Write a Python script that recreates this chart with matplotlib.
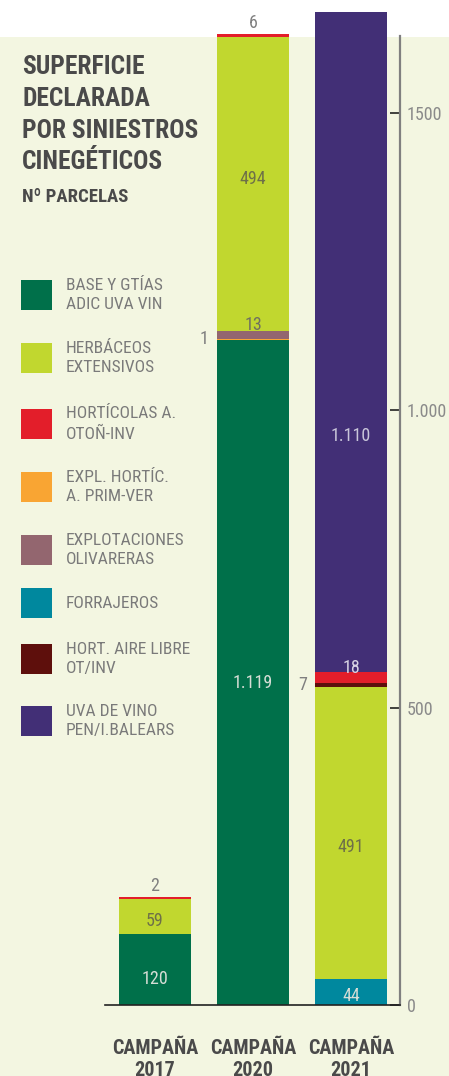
import matplotlib
matplotlib.use("Agg")
import matplotlib.pyplot as plt
from matplotlib import font_manager
from matplotlib.patches import Rectangle
from matplotlib.ticker import FixedLocator, FixedFormatter

# data
campaigns = ['CAMPAÑA\n2017', 'CAMPAÑA\n2020', 'CAMPAÑA\n2021']
forrajeros = [0, 0, 44]
base_gtias = [120, 1119, 0]
expl_hortic = [0, 1, 0]
olivareras = [0, 13, 0]
herbaceos = [59, 494, 491]
hort_aire = [0, 0, 7]
horticolas = [2, 6, 18]
uva_vino = [0, 0, 1110]

tick_vals = [0, 500, 1000, 1500]
tick_text = ['0', '500', '1.000', '1500']

# stacking order (bottom -> top): name, values, colour, legend text
series = [
    ('forr', forrajeros, '#00889E', 'FORRAJEROS'),
    ('base', base_gtias, '#00704A', 'BASE Y GTÍAS\nADIC UVA VIN'),
    ('expl', expl_hortic, '#F9A533', 'EXPL. HORTÍC.\nA. PRIM-VER'),
    ('oliv', olivareras, '#93666F', 'EXPLOTACIONES\nOLIVARERAS'),
    ('herb', herbaceos, '#C1D72F', 'HERBÁCEOS\nEXTENSIVOS'),
    ('aire', hort_aire, '#5E0F0C', 'HORT. AIRE LIBRE\nOT/INV'),
    ('hort', horticolas, '#E31E2A', 'HORTÍCOLAS A.\nOTOÑ-INV'),
    ('uva', uva_vino, '#422F76', 'UVA DE VINO\nPEN/I.BALEARS'),
]
legend_order = ['base', 'herb', 'hort', 'expl', 'oliv', 'forr', 'aire', 'uva']

names = {f.name for f in font_manager.fontManager.ttflist}
narrow = None
for cand in ['Roboto Condensed', 'Liberation Sans Narrow', 'Open Sans Condensed']:
    if cand in names:
        narrow = cand
        break
if narrow is None:
    narrow = 'Liberation Sans'
    k = 0.85
else:
    k = 1.0
FONT = [narrow, 'DejaVu Sans']

W, H = 449, 1076
fig = plt.figure(figsize=(W / 100, H / 100), dpi=100)
fig.patch.set_facecolor('white')
fig.add_artist(Rectangle((0, 0), 1, (H - 37) / H, transform=fig.transFigure,
                         facecolor='#F3F6E1', edgecolor='none', zorder=0))

# axes: value 0 at pixel 1005, 1500 at 113
px_per = (1005 - 113) / 1500
ax = fig.add_axes([105 / W, (H - 1005) / H, 295 / W, 1005 / H])
ax.set_facecolor('none')
ax.set_xlim(-0.51, 2.5)
ax.set_ylim(0, 1005 / px_per)

x = [0, 1, 2]
bw = 0.735
bottoms = [0, 0, 0]
tops = [sum(s[1][i] for s in series) for i in range(3)]

light = '#D5DDD5'
olive = '#6E7048'
grey = '#7F7F7F'
txt_col = {'base': light, 'forr': light, 'uva': '#C9C6DA', 'herb': olive,
           'oliv': '#707060', 'hort': '#D8D4E4'}
# label offsets in points (layout tweaks)
offs = {(0, 'base'): -7, (0, 'herb'): -3.5, (1, 'base'): -8, (1, 'oliv'): 7,
        (1, 'herb'): 3.5, (2, 'forr'): -3, (2, 'herb'): -10, (2, 'hort'): 7,
        (2, 'uva'): -68}

for key, vals, col, lab in series:
    ax.bar(x, vals, bw, bottom=bottoms, color=col, edgecolor='none',
           clip_on=False, zorder=3)
    for i, v in enumerate(vals):
        if v == 0:
            continue
        s = f'{v:,}'.replace(',', '.')
        mid = bottoms[i] + v / 2
        if v < 10:
            if bottoms[i] + v >= tops[i]:
                ax.annotate(s, (x[i], bottoms[i] + v), xytext=(0, 1.5),
                            textcoords='offset points', ha='center', va='bottom',
                            color=grey, fontsize=13 * k, family=FONT,
                            annotation_clip=False, zorder=5)
            else:
                ax.annotate(s, (x[i] - bw / 2, mid), xytext=(-6, 0),
                            textcoords='offset points', ha='right', va='center',
                            color=grey, fontsize=13 * k, family=FONT,
                            annotation_clip=False, zorder=5)
        else:
            ax.annotate(s, (x[i], mid), xytext=(0, offs.get((i, key), 0)),
                        textcoords='offset points', ha='center', va='center',
                        color=txt_col.get(key, light), fontsize=13 * k, family=FONT,
                        annotation_clip=False, zorder=5)
    bottoms = [b + v for b, v in zip(bottoms, vals)]

# axes styling
for sp in ['top', 'left']:
    ax.spines[sp].set_visible(False)
ax.spines['right'].set_color('#808080')
ax.spines['right'].set_linewidth(1.6)
ax.spines['right'].set_bounds(0, (1005 - 36) / px_per)
ax.spines['bottom'].set_color('#222222')
ax.spines['bottom'].set_linewidth(1.2)
ax.spines['bottom'].set_zorder(4)
ax.yaxis.tick_right()
ax.yaxis.set_major_locator(FixedLocator(tick_vals))
ax.yaxis.set_major_formatter(FixedFormatter(tick_text))
ax.tick_params(axis='y', direction='in', length=7, width=1.2, color='#222222',
               pad=5, labelsize=13 * k, labelcolor='#8A8A8A')
for t in ax.get_yticklabels():
    t.set_family(FONT)
ax.set_xticks([])
for i, c in enumerate(campaigns):
    ax.text(x[i], -57, c, ha='center', va='top', fontsize=14.5 * k,
            fontweight='bold', color='#4A4A4A', family=FONT, linespacing=1.2,
            transform=ax.transData, clip_on=False)

# title
title_lines = ['SUPERFICIE', 'DECLARADA', 'POR SINIESTROS', 'CINEGÉTICOS']
baselines = [74, 106, 138, 169]
for line, yb in zip(title_lines, baselines):
    fig.text(22 / W, 1 - yb / H, line, ha='left', va='baseline',
             fontsize=18.4 * k, fontweight='bold', color='#4A4A4A', family=FONT)
fig.text(22 / W, 1 - 202 / H, 'Nº PARCELAS', ha='left', va='baseline',
         fontsize=13.5 * k, fontweight='bold', color='#4A4A4A', family=FONT)

# legend
leg_y = [295, 358, 424, 487, 550, 603, 659, 721]
lookup = {s[0]: s for s in series}
for key, yc in zip(legend_order, leg_y):
    _, _, col, lab = lookup[key]
    fig.add_artist(Rectangle((21 / W, 1 - (yc + 15) / H), 31 / W, 30 / H,
                             transform=fig.transFigure, facecolor=col,
                             edgecolor='none', zorder=2))
    fig.text(66 / W, 1 - yc / H, lab, ha='left', va='center', fontsize=12.5 * k,
             color='#7A7A7A', family=FONT, linespacing=1.4)

fig.savefig('out.png', dpi=100, facecolor=fig.get_facecolor())
